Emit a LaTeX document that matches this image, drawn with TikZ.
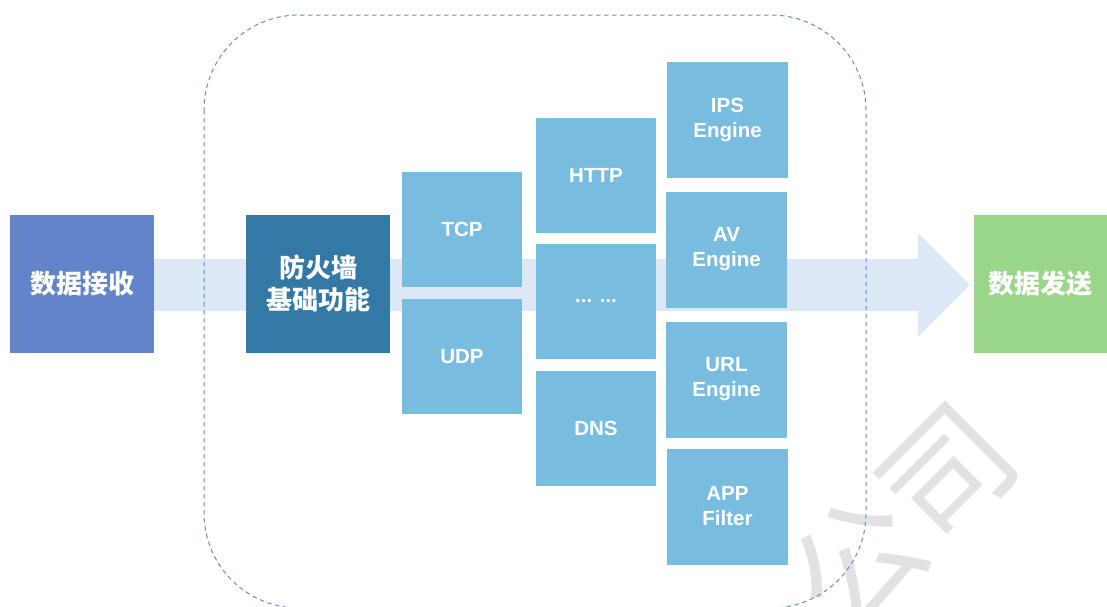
\documentclass[tikz,border=0pt]{standalone}
\usepackage{fontspec}
\setmainfont{Liberation Sans}
\newfontfamily\cjk{Noto Sans CJK SC}
\usetikzlibrary{calc}
\definecolor{recvc}{HTML}{6185C8}
\definecolor{fwc}{HTML}{3479A5}
\definecolor{boxc}{HTML}{78BCE0}
\definecolor{sendc}{HTML}{9AD68A}
\definecolor{arrowc}{HTML}{DDE8F7}
\definecolor{dashc}{HTML}{6A8BD0}
\definecolor{wmc}{HTML}{E2E2E2}
\begin{document}
\begin{tikzpicture}[x=1pt,y=-1pt,
  blk/.style={fill=#1, draw=none, text=white, align=center, inner sep=0pt},
  bigblk/.style={blk=#1, minimum width=144pt, minimum height=138pt, font=\cjk\bfseries\fontsize{26}{32}\selectfont},
  proto/.style={blk=boxc, minimum width=120pt, minimum height=115pt, font=\bfseries\fontsize{20.5}{25}\selectfont},
  eng/.style={blk=boxc, minimum width=121pt, minimum height=116pt, font=\bfseries\fontsize{20.5}{25}\selectfont},
  frame/.style={draw=dashc, line width=1pt, dash pattern=on 4.5pt off 3.5pt, rounded corners=95pt}]
\useasboundingbox (0,0) rectangle (1107,606);
\fill[white] (0,0) rectangle (1107,606);

% watermark
\node[rotate=45, text=wmc, font=\cjk\fontsize{128}{128}\selectfont] (wm) at (902,518) {公司};

% nodes
\node[bigblk=recvc] (recv) at (82,284) {数据接收};
\node[bigblk=sendc, minimum width=133pt] (send) at (1040.5,284) {数据发送};

% big arrow
\fill[arrowc] ($(recv.east)+(0,-25)$) -- ($(send.west)+(-56,-25)$) -- ($(send.west)+(-56,-51)$)
  -- ($(send.west)+(-4,1)$) -- ($(send.west)+(-56,53)$) -- ($(send.west)+(-56,27)$)
  -- ($(recv.east)+(0,27)$) -- cycle;

% frame
\draw[frame] (204,15) rectangle (866,608);

\node[bigblk=fwc] (fw) at (318,284) {防火墙\\基础功能};

\node[proto] (tcp) at (462,229.5) {TCP};
\node[proto] (udp) at (462,356.5) {UDP};

\node[proto] (http) at (596,175.5) {HTTP};
\node[proto] (dots) at (596,301) {... ...};
\node[proto] (dns) at (596,428.5) {DNS};

\node[eng] (ips) at (727.5,120) {IPS\\Engine};
\node[eng] (av) at (726.5,249.5) {AV\\Engine};
\node[eng] (url) at (726.5,379.5) {URL\\Engine};
\node[eng] (app) at (727.5,506.5) {APP\\Filter};
\end{tikzpicture}
\end{document}
